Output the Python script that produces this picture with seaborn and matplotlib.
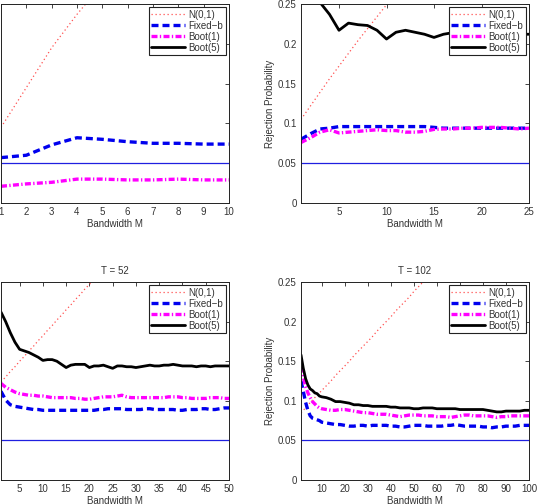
import matplotlib
matplotlib.use('Agg')
import matplotlib.pyplot as plt
import pandas as pd
import seaborn as sns

# --- data ---
m_a = list(range(1, 11))
n01_a = [0.095, 0.145, 0.195, 0.237, 0.275, 0.31, 0.345, 0.375, 0.405, 0.43]
fixb_a = [0.057, 0.060, 0.073, 0.082, 0.080, 0.077, 0.075, 0.075, 0.074, 0.074]
boot1_a = [0.021, 0.024, 0.026, 0.030, 0.030, 0.029, 0.029, 0.030, 0.029, 0.029]
boot5_a = [0.36, 0.35, 0.34, 0.33, 0.32, 0.32, 0.31, 0.31, 0.31, 0.31]

m_b = list(range(1, 26))
n01_b = [0.105, 0.122, 0.139, 0.156, 0.172, 0.188, 0.204, 0.219, 0.234, 0.249,
         0.264, 0.279, 0.294, 0.309, 0.324, 0.339, 0.354, 0.369, 0.384, 0.399,
         0.414, 0.429, 0.444, 0.459, 0.474]
fixb_b = [0.080, 0.087, 0.093, 0.094, 0.096, 0.096, 0.096, 0.096, 0.096, 0.096,
          0.096, 0.096, 0.096, 0.096, 0.095, 0.094, 0.094, 0.094, 0.094, 0.094,
          0.094, 0.094, 0.094, 0.094, 0.094]
boot1_b = [0.076, 0.082, 0.089, 0.092, 0.088, 0.089, 0.090, 0.091, 0.092, 0.091,
           0.091, 0.089, 0.089, 0.090, 0.0925, 0.093, 0.093, 0.094, 0.094, 0.095,
           0.095, 0.095, 0.094, 0.093, 0.094]
boot5_b = [0.29, 0.27, 0.252, 0.237, 0.217, 0.226, 0.224, 0.223, 0.217, 0.206,
           0.2145, 0.217, 0.2145, 0.212, 0.208, 0.212, 0.214, 0.215, 0.214, 0.213,
           0.214, 0.213, 0.213, 0.212, 0.212]

m_c = list(range(1, 51))
n01_c = [0.124, 0.130, 0.137, 0.143, 0.150, 0.156, 0.163, 0.169, 0.176, 0.182,
         0.189, 0.195, 0.202, 0.208, 0.215, 0.221, 0.228, 0.234, 0.241, 0.247,
         0.254, 0.260, 0.267, 0.273, 0.280, 0.286, 0.293, 0.299, 0.306, 0.312,
         0.319, 0.325, 0.332, 0.338, 0.345, 0.351, 0.358, 0.364, 0.371, 0.377,
         0.384, 0.390, 0.397, 0.403, 0.410, 0.416, 0.423, 0.429, 0.436, 0.442]
fixb_c = [0.112, 0.101, 0.095, 0.093, 0.092, 0.091, 0.090, 0.089, 0.089, 0.088,
          0.088, 0.088, 0.088, 0.088, 0.088, 0.088, 0.088, 0.088, 0.088, 0.088,
          0.088, 0.089, 0.089, 0.090, 0.090, 0.090, 0.090, 0.089, 0.089, 0.089,
          0.089, 0.090, 0.090, 0.089, 0.089, 0.089, 0.089, 0.089, 0.088, 0.088,
          0.089, 0.089, 0.089, 0.090, 0.090, 0.089, 0.089, 0.090, 0.091, 0.091]
boot1_c = [0.122, 0.117, 0.114, 0.111, 0.109, 0.108, 0.107, 0.107, 0.106, 0.106,
           0.105, 0.104, 0.104, 0.104, 0.104, 0.104, 0.103, 0.103, 0.102, 0.102,
           0.103, 0.104, 0.105, 0.105, 0.105, 0.106, 0.107, 0.105, 0.104, 0.104,
           0.104, 0.104, 0.104, 0.104, 0.104, 0.104, 0.105, 0.105, 0.105, 0.104,
           0.104, 0.103, 0.103, 0.103, 0.103, 0.104, 0.104, 0.104, 0.103, 0.103]
boot5_c = [0.212, 0.200, 0.186, 0.174, 0.165, 0.163, 0.161, 0.158, 0.155, 0.151,
           0.152, 0.152, 0.150, 0.146, 0.142, 0.145, 0.146, 0.146, 0.146, 0.142,
           0.144, 0.144, 0.145, 0.143, 0.141, 0.144, 0.144, 0.143, 0.143, 0.142,
           0.143, 0.144, 0.145, 0.144, 0.144, 0.145, 0.145, 0.146, 0.145, 0.144,
           0.144, 0.144, 0.143, 0.144, 0.144, 0.143, 0.144, 0.144, 0.144, 0.144]

m_d = list(range(1, 11)) + list(range(12, 101, 2))
n01_d = [0.085, 0.088, 0.091, 0.094, 0.098, 0.101, 0.104, 0.107, 0.110, 0.113,
         0.119, 0.125, 0.132, 0.138, 0.144, 0.150, 0.157, 0.163, 0.169, 0.175,
         0.181, 0.188, 0.194, 0.200, 0.206, 0.213, 0.219, 0.225, 0.231, 0.238,
         0.244, 0.250, 0.256, 0.262, 0.269, 0.275, 0.281, 0.287, 0.294, 0.300,
         0.306, 0.312, 0.319, 0.325, 0.331, 0.337, 0.344, 0.350, 0.356, 0.362,
         0.369, 0.375, 0.381, 0.387, 0.394]
fixb_d = [0.125, 0.112, 0.098, 0.088, 0.081, 0.078, 0.077, 0.076, 0.075, 0.073,
          0.072, 0.071, 0.070, 0.070, 0.069, 0.068, 0.068, 0.069, 0.069, 0.068,
          0.069, 0.069, 0.069, 0.069, 0.068, 0.068, 0.067, 0.067, 0.068, 0.069,
          0.069, 0.069, 0.068, 0.068, 0.068, 0.068, 0.069, 0.069, 0.070, 0.069,
          0.068, 0.068, 0.068, 0.068, 0.067, 0.067, 0.066, 0.067, 0.067, 0.068,
          0.068, 0.068, 0.069, 0.069, 0.069]
boot1_d = [0.143, 0.130, 0.118, 0.110, 0.104, 0.099, 0.096, 0.093, 0.091, 0.090,
           0.089, 0.088, 0.088, 0.089, 0.089, 0.088, 0.087, 0.086, 0.085, 0.085,
           0.084, 0.083, 0.083, 0.083, 0.082, 0.081, 0.080, 0.081, 0.082, 0.082,
           0.082, 0.081, 0.081, 0.081, 0.080, 0.080, 0.080, 0.079, 0.080, 0.081,
           0.082, 0.082, 0.081, 0.081, 0.081, 0.081, 0.080, 0.079, 0.080, 0.080,
           0.081, 0.081, 0.081, 0.081, 0.081]
boot5_d = [0.158, 0.141, 0.128, 0.120, 0.115, 0.113, 0.110, 0.109, 0.106, 0.105,
           0.104, 0.102, 0.099, 0.099, 0.098, 0.097, 0.095, 0.095, 0.094, 0.094,
           0.093, 0.093, 0.093, 0.093, 0.092, 0.092, 0.091, 0.091, 0.091, 0.090,
           0.090, 0.091, 0.091, 0.091, 0.090, 0.090, 0.090, 0.090, 0.090, 0.089,
           0.089, 0.089, 0.089, 0.089, 0.089, 0.088, 0.087, 0.086, 0.086, 0.087,
           0.087, 0.087, 0.087, 0.088, 0.088]

nominal = 0.05
y_ticks = [0, 0.05, 0.1, 0.15, 0.2, 0.25]
y_ticklabels = ['0', '0.05', '0.1', '0.15', '0.2', '0.25']


def draw_panel(ax, m, n01, fixb, boot1, boot5, xticks, title=None):
    sns.lineplot(x=m, y=n01, ax=ax, color='#ff5050', lw=0.9,
                 linestyle=(0, (1, 2.2)), label='N(0,1)')
    sns.lineplot(x=m, y=fixb, ax=ax, color='#0000ee', lw=2.4,
                 linestyle=(0, (2.1, 1.2)), label='Fixed\u2212b')
    sns.lineplot(x=m, y=boot1, ax=ax, color='#ff00ff', lw=2.4,
                 linestyle=(0, (1.8, 0.7, 0.4, 0.7)), label='Boot(1)')
    sns.lineplot(x=m, y=boot5, ax=ax, color='black', lw=2.0, label='Boot(5)')
    ax.axhline(nominal, color='#1f1fe0', lw=0.9)

    ax.set_xlim(m[0], m[-1])
    ax.set_ylim(0, 0.25)
    ax.set_xticks(xticks)
    ax.set_yticks(y_ticks)
    ax.set_yticklabels(y_ticklabels)
    ax.set_xlabel('Bandwidth M', fontsize=7, labelpad=1, color='#333333')
    ax.set_ylabel('Rejection Probability', fontsize=7, labelpad=2, color='#333333')
    if title:
        ax.set_title(title, fontsize=7, pad=6, color='#333333')
    ax.tick_params(direction='in', top=True, right=True, length=3, width=0.6,
                   labelsize=7, labelcolor='#333333', pad=3)
    for sp in ax.spines.values():
        sp.set_color('#222222')
        sp.set_linewidth(0.7)
    leg = ax.legend(loc='upper right', fontsize=7, handlelength=3.4,
                    labelspacing=0.1, borderpad=0.25, handletextpad=0.4,
                    borderaxespad=0.35, fancybox=False, framealpha=1)
    leg.get_frame().set_edgecolor('#222222')
    leg.get_frame().set_linewidth(0.8)
    for t in leg.get_texts():
        t.set_color('#333333')


sns.set_style('white')
plt.rcParams['font.family'] = ['Liberation Sans', 'DejaVu Sans']

fig = plt.figure(figsize=(5.37, 5.04), dpi=100)
W, H = 537, 504


def box(l, t, r, b):
    return [l / W, (H - b) / H, (r - l) / W, (b - t) / H]


ax_a = fig.add_axes(box(1, 4, 229, 203))
ax_b = fig.add_axes(box(301, 4, 529, 203))
ax_c = fig.add_axes(box(1, 282, 229, 480))
ax_d = fig.add_axes(box(301, 282, 529, 480))

draw_panel(ax_a, m_a, n01_a, fixb_a, boot1_a, boot5_a, list(range(1, 11)))
draw_panel(ax_b, m_b, n01_b, fixb_b, boot1_b, boot5_b, [5, 10, 15, 20, 25])
draw_panel(ax_c, m_c, n01_c, fixb_c, boot1_c, boot5_c, list(range(5, 51, 5)), 'T = 52')
draw_panel(ax_d, m_d, n01_d, fixb_d, boot1_d, boot5_d, list(range(10, 101, 10)), 'T = 102')

fig.savefig('out.png', dpi=100)
